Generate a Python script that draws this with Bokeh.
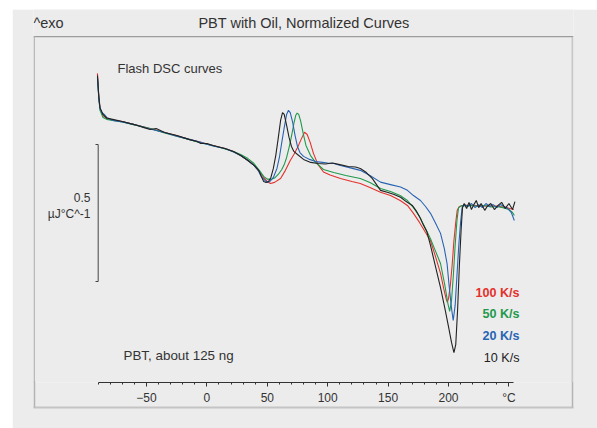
from bokeh.plotting import figure
from bokeh.models import (Range1d, LinearAxis, SingleIntervalTicker, FixedTicker, Label,
                          BoxAnnotation)
from bokeh.embed import file_html
from bokeh.resources import INLINE

# ---------------- data (temperature in °C, normalized heat flow in µJ/°C, arbitrary offset) -------------
t_100 = [-90.6, -89.5, -88.5, -86, -83, -78, -70, -60, -47, -35, -25, -15, -5, 5, 15, 22, 28, 34, 39, 44,
         47, 50, 52.6, 56, 61, 65, 69, 72, 75, 78, 80.8, 83, 85.5, 88.2, 92, 96.5, 102, 110.6, 120, 127,
         135, 143.7, 152, 160, 166, 171, 176, 181, 185, 189, 193.4, 196, 198, 199, 200, 201.5, 203, 204.5,
         206, 207.2, 209, 212, 220, 230, 240, 248, 254]
q_100 = [0.829, 0.748, 0.701, 0.675, 0.664, 0.659, 0.653, 0.642, 0.628, 0.613, 0.602, 0.588, 0.577, 0.566,
         0.555, 0.544, 0.529, 0.511, 0.493, 0.467, 0.449, 0.434, 0.427, 0.431, 0.445, 0.475, 0.511, 0.533,
         0.558, 0.588, 0.614, 0.606, 0.577, 0.537, 0.496, 0.469, 0.458, 0.445, 0.434, 0.427, 0.412, 0.395,
         0.383, 0.365, 0.347, 0.318, 0.285, 0.248, 0.219, 0.164, 0.099, 0.044, 0.007, -0.007, 0.007, 0.055,
         0.128, 0.219, 0.285, 0.329, 0.343, 0.347, 0.347, 0.345, 0.345, 0.339, 0.332]

t_50 = [-90.6, -89.5, -88.5, -86, -83, -78, -70, -60, -47, -35, -25, -15, -5, 5, 15, 22, 28, 34, 39, 44,
        47, 50, 53, 56, 59, 62, 64, 66, 68, 70, 72, 73.5, 74.7, 76, 77.5, 79.7, 82, 85.8, 90, 96.5, 105,
        115, 127, 135, 143.7, 152, 160, 166, 171, 176, 181, 185, 189, 193.4, 197, 199.5, 201, 202.5, 204,
        205.5, 207, 208.3, 211, 215, 220, 225, 230, 235, 240, 245, 250, 253, 254.5]
q_50 = [0.814, 0.741, 0.694, 0.668, 0.661, 0.657, 0.652, 0.641, 0.628, 0.611, 0.600, 0.588, 0.575, 0.566,
        0.553, 0.544, 0.533, 0.518, 0.500, 0.471, 0.453, 0.443, 0.442, 0.447, 0.460, 0.478, 0.496, 0.522,
        0.558, 0.599, 0.646, 0.675, 0.684, 0.679, 0.657, 0.610, 0.566, 0.529, 0.504, 0.478, 0.467, 0.456,
        0.445, 0.431, 0.409, 0.398, 0.383, 0.365, 0.339, 0.307, 0.263, 0.226, 0.183, 0.135, 0.055, -0.011,
        -0.040, 0.000, 0.091, 0.201, 0.292, 0.339, 0.347, 0.345, 0.347, 0.343, 0.347, 0.341, 0.343, 0.339,
        0.332, 0.321, 0.310]

t_20 = [-90.6, -89.5, -88.5, -87, -85, -83, -78, -70, -60, -47, -35, -25, -15, -5, 5, 15, 22, 28, 34, 39,
        42, 45, 48, 50, 52, 55, 58, 60, 62, 64, 66, 67.5, 69, 71, 73, 75, 77, 80, 85, 90, 94, 100, 105,
        110.6, 118, 127, 135, 143.7, 152, 160.3, 166, 171, 176.8, 181, 185.1, 189, 193.4, 196.5, 198.8,
        200.5, 202.5, 203.9, 205.5, 207, 208.5, 210, 211.3, 213, 216, 219, 222, 225, 228, 231, 234, 237,
        240, 243, 246, 249, 252, 254.5]
q_20 = [0.814, 0.737, 0.701, 0.686, 0.679, 0.668, 0.657, 0.652, 0.642, 0.626, 0.613, 0.600, 0.589, 0.577,
        0.564, 0.555, 0.542, 0.529, 0.511, 0.493, 0.478, 0.453, 0.438, 0.431, 0.434, 0.449, 0.482, 0.522,
        0.577, 0.631, 0.679, 0.694, 0.686, 0.650, 0.602, 0.562, 0.540, 0.526, 0.515, 0.507, 0.505, 0.502,
        0.500, 0.493, 0.485, 0.475, 0.456, 0.432, 0.423, 0.414, 0.402, 0.383, 0.365, 0.343, 0.318, 0.285,
        0.245, 0.190, 0.135, 0.055, -0.029, -0.073, -0.018, 0.091, 0.201, 0.285, 0.339, 0.350, 0.343,
        0.354, 0.339, 0.350, 0.339, 0.354, 0.343, 0.350, 0.339, 0.350, 0.343, 0.336, 0.321, 0.292]

t_10 = [-90.6, -89.5, -88.5, -86, -83, -78, -70, -60, -52, -47, -42, -35, -25, -15, -8, -5, 0, 5, 15, 22,
        28, 34, 39, 43, 45, 47, 49, 51, 53, 55, 57, 59, 61, 62.6, 64, 66, 68, 70, 72, 75, 80, 86, 92, 98,
        104, 110, 117, 123, 127, 132, 137, 143.7, 150, 155, 160.3, 165, 170, 173, 176.8, 179, 182, 185.1,
        189, 193.4, 197, 200, 202.5, 204.5, 206, 207.5, 209, 210.5, 211.6, 213, 215, 217, 219, 221, 223,
        225, 227, 230, 232, 235, 238, 241, 244, 247, 250, 253, 255]
q_10 = [0.821, 0.745, 0.704, 0.679, 0.666, 0.661, 0.653, 0.642, 0.631, 0.624, 0.628, 0.613, 0.602, 0.588,
        0.580, 0.573, 0.573, 0.566, 0.555, 0.544, 0.529, 0.511, 0.493, 0.475, 0.453, 0.434, 0.431, 0.434,
        0.449, 0.482, 0.529, 0.591, 0.657, 0.686, 0.679, 0.639, 0.595, 0.562, 0.544, 0.533, 0.515, 0.504,
        0.500, 0.498, 0.502, 0.496, 0.489, 0.487, 0.482, 0.467, 0.445, 0.402, 0.394, 0.387, 0.377, 0.361,
        0.347, 0.329, 0.299, 0.277, 0.252, 0.201, 0.128, 0.047, -0.029, -0.095, -0.153, -0.190, -0.161,
        -0.037, 0.128, 0.263, 0.339, 0.354, 0.336, 0.358, 0.332, 0.350, 0.365, 0.339, 0.354, 0.329, 0.343,
        0.354, 0.332, 0.347, 0.358, 0.336, 0.354, 0.332, 0.361]

series = [("100 K/s", t_100, q_100, "#e5312c", "bold"),
          ("50 K/s", t_50, q_50, "#1f9a4c", "bold"),
          ("20 K/s", t_20, q_20, "#2864b4", "bold"),
          ("10 K/s", t_10, q_10, "#222222", "normal")]

x_tick_interval = 50
x_unit_label = "°C"
scale_bar_value = 0.5
scale_bar_label = ["0.5", "µJ°C^-1"]
title_text = "PBT with Oil, Normalized Curves"
exo_text = "^exo"
note_top = "Flash DSC curves"
note_bottom = "PBT, about 125 ng"

# ---------------- layout helpers (page pixel -> data) ----------------
X0PX, KX = 206.4, 1.208
Y0PX, KY = 300.0, 274.0
def dx(px):
    return (px - X0PX) / KX
def dy(py):
    return (Y0PX - py) / KY

BG = "#ececec"
FONT = "Liberation Sans"
TXT = "#333333"

# figure occupies page 12..597 x 9..428 ; frame: page x 33..573, page y 9..382
p = figure(width=585, height=419, output_backend="svg", toolbar_location=None,
           x_range=Range1d(dx(33), dx(573)), y_range=Range1d(dy(382), dy(9)),
           x_axis_type=None, y_axis_type=None,
           min_border_left=21, min_border_right=24, min_border_top=0, min_border_bottom=46,
           background_fill_color=BG, border_fill_color=BG, outline_line_color=None,
           styles={"margin-left": "12px", "margin-top": "9px"})

xaxis = LinearAxis(ticker=SingleIntervalTicker(interval=x_tick_interval, num_minor_ticks=5),
                   bounds=(-90, 253.5), major_label_overrides={250: x_unit_label},
                   major_tick_out=4, major_tick_in=0, minor_tick_out=2, minor_tick_in=0,
                   axis_line_color=TXT, major_tick_line_color=TXT, minor_tick_line_color=TXT,
                   major_label_text_font=FONT, major_label_text_font_size="12px",
                   major_label_text_color=TXT, major_label_standoff=4)
p.add_layout(xaxis, "below")

# second (decorative) axis: bottom edge of the framing box, with its side edges as inward ticks
edge_axis = LinearAxis(ticker=FixedTicker(ticks=[dx(33.6), dx(572)]),
                       major_tick_in=26, major_tick_out=0, minor_tick_in=0, minor_tick_out=0,
                       axis_line_color="#c4c4c4", axis_line_width=2,
                       major_tick_line_color="#b4b4b4", major_tick_line_width=1.5,
                       major_label_text_font_size="1px", major_label_text_alpha=0,
                       major_label_standoff=0)
p.add_layout(edge_axis, "below")

# framing box, part inside the frame
p.add_layout(BoxAnnotation(left=dx(33), right=dx(573), top=dy(35.5), bottom=dy(36.7),
                           fill_color="#9c9c9c", fill_alpha=1, line_alpha=0))
p.add_layout(BoxAnnotation(left=dx(33), right=dx(34.3), top=dy(35.5), bottom=dy(382),
                           fill_color="#ababab", fill_alpha=1, line_alpha=0))
p.add_layout(BoxAnnotation(left=dx(571), right=dx(573), top=dy(36.5), bottom=dy(382),
                           fill_color="#c8c8c8", fill_alpha=1, line_alpha=0))

# curves
for name, t, q, col, w in series:
    p.line(t, q, line_color=col, line_width=1.1)

# scale bar
sb_x = -90
sb_y0 = dy(281)
p.segment(x0=[sb_x, sb_x, sb_x], y0=[sb_y0, sb_y0, sb_y0 + scale_bar_value],
          x1=[sb_x, dx(95), dx(95)], y1=[sb_y0 + scale_bar_value, sb_y0, sb_y0 + scale_bar_value],
          line_color="#444444", line_width=1)

def lab(x, y, text, align="left", color=TXT, size="13px", weight="normal"):
    p.add_layout(Label(x=x, y=y, text=text, text_align=align, text_baseline="middle",
                       text_font=FONT, text_font_size=size, text_color=color,
                       text_font_style=weight))

lab(dx(303.5), dy(22), title_text, align="center", size="14.5px")
lab(dx(33), dy(22), exo_text, size="14.5px")
lab(dx(117), dy(68), note_top, size="13px")
lab(dx(123), dy(355), note_bottom, size="13.4px")
lab(dx(90), dy(197), scale_bar_label[0], align="right", size="12px")
lab(dx(90), dy(213), scale_bar_label[1], align="right", size="12px")

for (name, t, q, col, w), ypx in zip(series, [292, 313, 335, 357]):
    lab(dx(519), dy(ypx), name, align="right", color=col, weight=w, size="12.6px")

open("out.html", "w").write(file_html(p, INLINE))
